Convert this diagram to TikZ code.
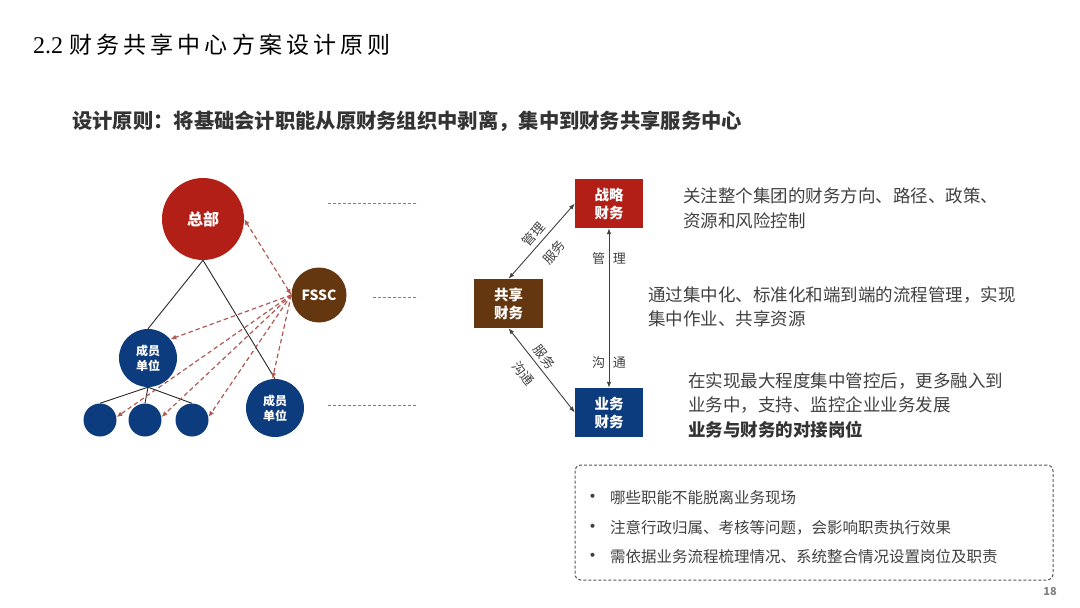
\documentclass[tikz,border=0pt]{standalone}
\usepackage{fontspec}
\setmainfont{Noto Sans CJK SC}
\newfontfamily\titlecjk[LetterSpace=18]{Noto Sans CJK SC}
\newfontfamily\serifnum{Liberation Serif}
\usetikzlibrary{arrows.meta}
\definecolor{ink}{HTML}{333333}
\definecolor{body}{HTML}{404040}
\definecolor{hqred}{HTML}{B21F16}
\definecolor{fsscbrown}{HTML}{653710}
\definecolor{unitblue}{HTML}{0D3C7E}
\definecolor{fsscline}{HTML}{B05A52}
\definecolor{guide}{HTML}{808080}
\definecolor{linkgray}{HTML}{404040}
\definecolor{framegray}{HTML}{555555}

\begin{document}
\begin{tikzpicture}[
  x=1pt, y=-1pt,
  text=body,
  org/.style={
    circle,
    inner sep=0pt,
    text=white,
    font=\fontsize{13}{15}\selectfont\bfseries,
    align=center
  },
  hqnode/.style={org, fill=hqred, minimum size=82pt, font=\fontsize{16}{18}\selectfont\bfseries},
  fsscnode/.style={org, fill=fsscbrown, minimum size=55pt, font=\fontsize{14}{16}\selectfont\bfseries},
  unitnode/.style={org, fill=unitblue, minimum size=58pt, font=\fontsize{12}{15}\selectfont\bfseries},
  subnode/.style={org, fill=unitblue, minimum size=33pt},
  rolebox/.style={
    rectangle,
    inner sep=0pt,
    minimum width=68pt,
    minimum height=49pt,
    text=white,
    align=center,
    font=\fontsize{14.5}{18}\selectfont\bfseries
  },
  tree/.style={draw=black!85, line width=0.9pt},
  fsarrow/.style={-{Latex[length=6pt,width=5pt]}, draw=fsscline, line width=1.2pt, dash pattern=on 4.5pt off 3pt},
  link/.style={{Latex[length=6pt,width=4.5pt]}-{Latex[length=6pt,width=4.5pt]}, draw=linkgray, line width=0.9pt},
  linklabel/.style={font=\fontsize{13}{15}\selectfont, text=body, inner sep=1pt},
  guideline/.style={draw=guide, line width=0.7pt, dash pattern=on 3pt off 2pt},
  desc/.style={anchor=west, align=left, inner sep=0pt, text=body, font=\fontsize{17.5}{24}\selectfont}
]
\useasboundingbox (0,0) rectangle (1080,608);

% Titles
\node[anchor=west, inner sep=0pt, text=black] (title) at (33,45)
  {\fontsize{24}{28}\serifnum 2.2 \titlecjk\fontsize{23}{28}\selectfont 财务共享中心方案设计原则};
\node[anchor=west, inner sep=0pt, text=ink, font=\fontsize{20.3}{24}\selectfont\bfseries] (principle) at (72,121)
  {设计原则：将基础会计职能从原财务组织中剥离，集中到财务共享服务中心};

% Organisation tree
\node[hqnode] (hq) at (203,219) {总部};
\node[fsscnode] (fssc) at (319,295) {FSSC};
\node[unitnode] (unitA) at (148,358) {成员\\单位};
\node[unitnode] (unitB) at (275,408) {成员\\单位};
\node[subnode] (subA) at (100,420) {};
\node[subnode] (subB) at (145,420) {};
\node[subnode] (subC) at (192,420) {};

\draw[tree] (hq.south) -- (unitA.north);
\draw[tree] (hq.south) -- (unitB.north);
\draw[tree] (unitA.south) -- (subA.north);
\draw[tree] (unitA.south) -- (subB.north);
\draw[tree] (unitA.south) -- (subC.north);

% FSSC service lines
\draw[fsarrow, {Latex[length=6pt,width=5pt]}-{Latex[length=6pt,width=5pt]}] (fssc.west) -- (hq.east);
\draw[fsarrow] (fssc.west) -- (unitA.40);
\draw[fsarrow] (fssc.west) -- (subA.10);
\draw[fsarrow] (fssc.west) -- (subB.10);
\draw[fsarrow] (fssc.west) -- (subC.10);
\draw[fsarrow] (fssc.west) -- (unitB.95);

% Guide dashes to the role model
\draw[guideline] (328,203) -- (418,203);
\draw[guideline] (373,297) -- (418,297);
\draw[guideline] (328,405) -- (416,405);

% Finance roles
\node[rolebox, fill=hqred] (strategic) at (609,203.5) {战略\\财务};
\node[rolebox, fill=fsscbrown, minimum width=69pt] (shared) at (508.5,303.5) {共享\\财务};
\node[rolebox, fill=unitblue] (business) at (609,412.5) {业务\\财务};

\draw[link] (shared.north) -- (strategic.west)
  node[linklabel, midway, sloped, above=3pt] {管理}
  node[linklabel, midway, sloped, below=9pt] {服务};
\draw[link] (shared.south) -- (business.west)
  node[linklabel, pos=0.42, sloped, above=3pt] {服务}
  node[linklabel, pos=0.42, sloped, below=9pt] {沟通};
\draw[link] (strategic.south) -- (business.north)
  node[linklabel, pos=0.19] {管\hspace{8pt}理}
  node[linklabel, pos=0.84] {沟\hspace{8pt}通};

% Role descriptions
\node[desc] (stratdesc) at (683,208.5) {关注整个集团的财务方向、路径、政策、\\[1pt]资源和风险控制};
\node[desc] (shareddesc) at (648,306.5) {通过集中化、标准化和端到端的流程管理，实现\\集中作业、共享资源};
\node[desc] (bizdesc) at (688,393.5) {在实现最大程度集中管控后，更多融入到\\业务中，支持、监控企业业务发展};
\node[desc, font=\fontsize{17.5}{24}\selectfont\bfseries, text=ink] (duty) at (688,430) {业务与财务的对接岗位};

% Notes
\node[draw=framegray, line width=1pt, dash pattern=on 3pt off 2pt, rounded corners=6pt,
  minimum width=478pt, minimum height=115pt] (notebox) at (814,522.5) {};
\node[anchor=west, align=left, inner sep=0pt, text=body, font=\fontsize{15.5}{29.5}\selectfont] (notes) at (583,527.5)
  {\makebox[27pt][l]{\fontsize{19}{20}\selectfont•}哪些职能不能脱离业务现场\\
   \makebox[27pt][l]{\fontsize{19}{20}\selectfont•}注意行政归属、考核等问题，会影响职责执行效果\\
   \makebox[27pt][l]{\fontsize{19}{20}\selectfont•}需依据业务流程梳理情况、系统整合情况设置岗位及职责};

\node[text=guide, font=\fontsize{11}{13}\selectfont\bfseries, inner sep=0pt] (pagenum) at (1050,592) {18};

\end{tikzpicture}
\end{document}
